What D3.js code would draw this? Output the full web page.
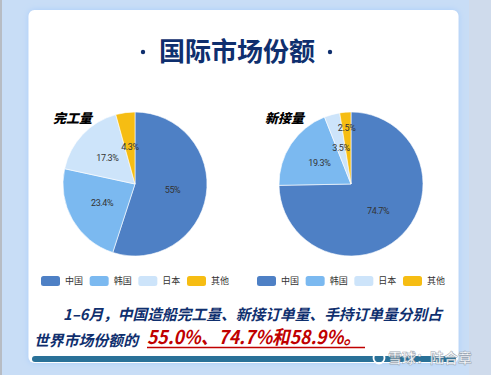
<!DOCTYPE html>
<html>
<head>
<meta charset="utf-8">
<script src="https://cdn.jsdelivr.net/npm/d3@7"></script>
<style>
  body { margin: 0; background: #c8ddf6; }
  svg { display: block; }
</style>
</head>
<body>
<div id="chart"></div>
<script>
// data
var countries = ["中国", "韩国", "日本", "其他"];
var completed = [55.0, 23.4, 17.3, 4.3];
var newOrders = [74.7, 19.3, 3.5, 2.5];
var completedLabels = ["55%", "23.4%", "17.3%", "4.3%"];
var newOrderLabels = ["74.7%", "19.3%", "3.5%", "2.5%"];
var pieTitles = ["完工量", "新接量"];

var width = 491, height = 375;
var cjk = "'Noto Sans CJK SC', 'Noto Sans', sans-serif";
var navy = "#0f2f6e";

var svg = d3.select("#chart").append("svg")
  .attr("width", width)
  .attr("height", height);

var defs = svg.append("defs");
var glow = defs.append("filter").attr("id", "glow")
  .attr("x", "-10%").attr("y", "-10%").attr("width", "120%").attr("height", "120%");
glow.append("feDropShadow").attr("dx", 0).attr("dy", 0)
  .attr("stdDeviation", 3).attr("flood-color", "#a9cdfa").attr("flood-opacity", 1);

// page background
svg.append("rect").attr("width", width).attr("height", height).attr("fill", "#c8ddf6");
svg.append("rect").attr("x", 0).attr("width", 2).attr("height", height).attr("fill", "#b7bcc4");
svg.append("rect").attr("x", 469).attr("width", 22).attr("height", height).attr("fill", "#cfdbec");

// card
svg.append("rect")
  .attr("x", 28.5).attr("y", 10)
  .attr("width", 430).attr("height", 353)
  .attr("rx", 6)
  .attr("fill", "#fff")
  .attr("filter", "url(#glow)");

// title
svg.append("text")
  .attr("x", 237).attr("y", 52).attr("dy", "0.36em")
  .attr("text-anchor", "middle")
  .attr("font-family", cjk).attr("font-weight", 700).attr("font-size", 26)
  .attr("fill", navy)
  .text("国际市场份额");
svg.selectAll(".tdot").data([143, 330]).enter().append("circle")
  .attr("class", "tdot")
  .attr("cx", function(d) { return d; }).attr("cy", 52).attr("r", 2.2)
  .attr("fill", navy);

var color = d3.scaleOrdinal().domain(countries)
  .range(["#4e80c5", "#7bb9f0", "#cde4fa", "#f6bd13"]);

var radius = 72;
var pie = d3.pie().sort(null).value(function(d) { return d.value; });
var arc = d3.arc().innerRadius(0).outerRadius(radius);
var labelArc = d3.arc().innerRadius(38).outerRadius(38);
var outerLabelArc = d3.arc().innerRadius(56).outerRadius(56);

var pies = [
  { cx: 135, values: completed, labels: completedLabels, title: pieTitles[0], tx: 53 },
  { cx: 351, values: newOrders, labels: newOrderLabels, title: pieTitles[1], tx: 265 }
];

pies.forEach(function(p) {
  var rows = countries.map(function(c, i) {
    return { name: c, value: p.values[i], label: p.labels[i] };
  });
  var g = svg.append("g").attr("transform", "translate(" + p.cx + ",184)");

  g.selectAll("path").data(pie(rows)).enter().append("path")
    .attr("d", arc)
    .attr("fill", function(d) { return color(d.data.name); })
    .attr("stroke", "#fff").attr("stroke-width", 0.6);

  g.selectAll("text").data(pie(rows)).enter().append("text")
    .attr("transform", function(d) {
      var a = d.data.value < 3 ? outerLabelArc : labelArc;
      return "translate(" + a.centroid(d) + ")";
    })
    .attr("dy", "0.35em")
    .attr("text-anchor", "middle")
    .attr("font-family", "Roboto, sans-serif").attr("font-size", 9)
    .attr("letter-spacing", -0.4)
    .attr("fill", "#333")
    .text(function(d) { return d.data.label; });

  svg.append("text")
    .attr("x", p.tx).attr("y", 118).attr("dy", "0.36em")
    .attr("font-family", cjk).attr("font-weight", 900).attr("font-size", 13)
    .attr("font-style", "italic")
    .attr("fill", "#000")
    .text(p.title);
});

// legends
var legendStarts = [41, 257];
legendStarts.forEach(function(x0) {
  var lx = d3.scalePoint().domain(countries).range([x0, x0 + 146]);
  var lg = svg.append("g");
  var item = lg.selectAll("g").data(countries).enter().append("g")
    .attr("transform", function(d) { return "translate(" + lx(d) + ",281)"; });
  item.append("rect")
    .attr("x", 0).attr("y", -5).attr("width", 19).attr("height", 10).attr("rx", 2.5)
    .attr("fill", function(d) { return color(d); });
  item.append("text")
    .attr("x", 24).attr("dy", "0.35em")
    .attr("font-family", cjk).attr("font-size", 9)
    .attr("fill", "#333")
    .text(function(d) { return d; });
});

// bottom notes
svg.append("text")
  .attr("x", 63).attr("y", 315).attr("dy", "0.36em")
  .attr("font-family", cjk).attr("font-weight", 700).attr("font-size", 15)
  .attr("font-style", "italic").attr("fill", navy)
  .attr("textLength", 379).attr("lengthAdjust", "spacingAndGlyphs")
  .text("1–6月，中国造船完工量、新接订单量、手持订单量分别占");
svg.append("text")
  .attr("x", 34).attr("y", 341).attr("dy", "0.36em")
  .attr("font-family", cjk).attr("font-weight", 700).attr("font-size", 15)
  .attr("font-style", "italic").attr("fill", navy)
  .attr("textLength", 104).attr("lengthAdjust", "spacingAndGlyphs")
  .text("世界市场份额的");
svg.append("text")
  .attr("x", 147).attr("y", 344)
  .attr("font-family", cjk).attr("font-weight", 700).attr("font-size", 19)
  .attr("font-style", "italic").attr("fill", "#c00000")
  .attr("textLength", 214).attr("lengthAdjust", "spacingAndGlyphs")
  .text("55.0%、74.7%和58.9%。");
svg.append("line")
  .attr("x1", 147).attr("x2", 365).attr("y1", 347.5).attr("y2", 347.5)
  .attr("stroke", "#c00000").attr("stroke-width", 1.5);

// bottom bar
svg.append("rect")
  .attr("x", 32).attr("y", 356).attr("width", 424).attr("height", 6).attr("rx", 3)
  .attr("fill", "#2a7198");

// watermark
var wm = svg.append("g");
wm.append("circle").attr("cx", 379).attr("cy", 358).attr("r", 5.5)
  .attr("fill", "none").attr("stroke", "#fff").attr("stroke-width", 1.8);
wm.append("text")
  .attr("x", 388).attr("y", 358).attr("dy", "0.36em")
  .attr("font-family", cjk).attr("font-weight", 700).attr("font-size", 14)
  .attr("fill", "#fff").attr("fill-opacity", 0.9)
  .attr("stroke", "#7f8c99").attr("stroke-width", 0.5).attr("stroke-opacity", 0.8)
  .text("雪球：陆合章");
</script>
</body>
</html>
